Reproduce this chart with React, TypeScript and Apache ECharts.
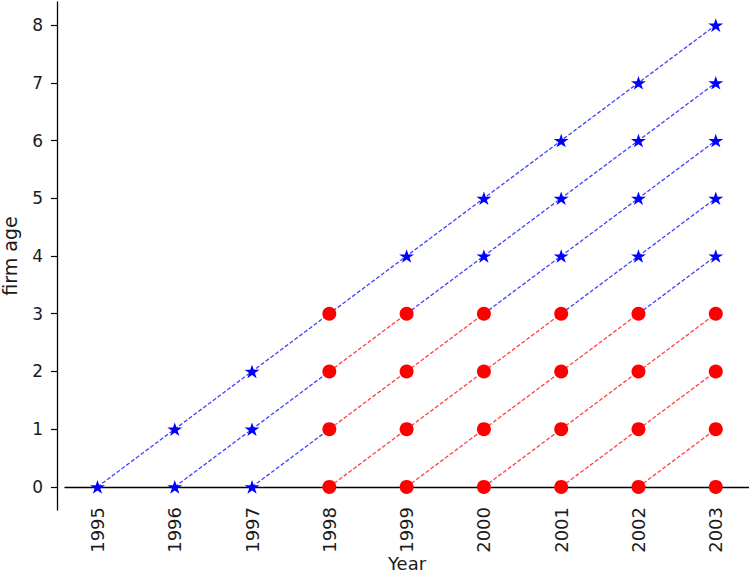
import React, { useEffect, useRef } from "react";
import * as echarts from "echarts";

// Observation years (x axis)
const years = [1995, 1996, 1997, 1998, 1999, 2000, 2001, 2002, 2003];
// Firm age ticks (y axis)
const ageTicks = [0, 1, 2, 3, 4, 5, 6, 7, 8];

// Firm age observed in each year, one row per entry cohort 1995..2003 (null = not yet born)
const ageByCohort: (number | null)[][] = [
  [0, 1, 2, 3, 4, 5, 6, 7, 8],
  [null, 0, 1, 2, 3, 4, 5, 6, 7],
  [null, null, 0, 1, 2, 3, 4, 5, 6],
  [null, null, null, 0, 1, 2, 3, 4, 5],
  [null, null, null, null, 0, 1, 2, 3, 4],
  [null, null, null, null, null, 0, 1, 2, 3],
  [null, null, null, null, null, null, 0, 1, 2],
  [null, null, null, null, null, null, null, 0, 1],
  [null, null, null, null, null, null, null, null, 0],
];

// Marker drawn at each point: "s" = blue star, "o" = red circle
const markerByCohort: (string | null)[][] = [
  ["s", "s", "s", "o", "s", "s", "s", "s", "s"],
  [null, "s", "s", "o", "o", "s", "s", "s", "s"],
  [null, null, "s", "o", "o", "o", "s", "s", "s"],
  [null, null, null, "o", "o", "o", "o", "s", "s"],
  [null, null, null, null, "o", "o", "o", "o", "s"],
  [null, null, null, null, null, "o", "o", "o", "o"],
  [null, null, null, null, null, null, "o", "o", "o"],
  [null, null, null, null, null, null, null, "o", "o"],
  [null, null, null, null, null, null, null, null, "o"],
];

const BLUE = "#0000ff";
const RED = "#ff0000";
const FONT = "DejaVu Sans";
const TEXT = "#1a1a1a";
const STAR =
  "path://M50 0 L61.23 34.55 L97.55 34.55 L68.17 55.9 L79.39 90.45 L50 69.1 L20.61 90.45 L31.83 55.9 L2.45 34.55 L38.77 34.55 Z";

function buildSeries() {
  const lineSeries: any[] = [];
  const stars: number[][] = [];
  const circles: number[][] = [];
  ageByCohort.forEach((ages, ci) => {
    const marks = markerByCohort[ci];
    const pts: { x: number; y: number; m: string }[] = [];
    ages.forEach((a, yi) => {
      if (a !== null && marks[yi]) pts.push({ x: years[yi], y: a, m: marks[yi] as string });
    });
    pts.forEach((p) => (p.m === "s" ? stars : circles).push([p.x, p.y]));
    // group consecutive segments of the same colour into runs
    let run: number[][] = [];
    let runColor = "";
    for (let i = 0; i < pts.length - 1; i++) {
      const a = pts[i];
      const b = pts[i + 1];
      const col = a.m === "o" && b.m === "o" ? RED : BLUE;
      if (col !== runColor) {
        if (run.length > 1) lineSeries.push(makeLine(run, runColor));
        run = [[a.x, a.y]];
        runColor = col;
      }
      run.push([b.x, b.y]);
    }
    if (run.length > 1) lineSeries.push(makeLine(run, runColor));
  });
  return { lineSeries, stars, circles };
}

function makeLine(data: number[][], color: string) {
  return {
    type: "line",
    data,
    symbol: "none",
    silent: true,
    z: 2,
    lineStyle: { color, width: 1.3, type: [4, 2], opacity: 0.75 },
  };
}

export default function App() {
  const ref = useRef<HTMLDivElement>(null);
  useEffect(() => {
    if (!ref.current) return;
    const chart = echarts.init(ref.current, undefined, { renderer: "svg" });
    const { lineSeries, stars, circles } = buildSeries();
    chart.setOption({
      animation: false,
      backgroundColor: "#ffffff",
      textStyle: { fontFamily: FONT },
      grid: { left: 65, right: 0, top: 2, bottom: 65, outerBoundsMode: "none", containLabel: false },
      xAxis: {
        type: "value",
        min: 1994.58,
        max: 2003.43,
        name: "Year",
        nameLocation: "middle",
        nameGap: 44,
        nameMoveOverlap: false,
        nameTextStyle: { fontFamily: FONT, fontSize: 18, color: TEXT },
        axisLine: { show: true, onZero: true, lineStyle: { color: "#000", width: 1.3 } },
        axisTick: { show: false },
        splitLine: { show: false },
        axisLabel: {
          customValues: years,
          rotate: 90,
          margin: -3,
          fontFamily: FONT,
          fontSize: 18,
          color: TEXT,
          formatter: (v: number) => String(v),
        },
      },
      yAxis: {
        type: "value",
        min: -0.4,
        max: 8.4,
        offset: 8,
        name: "firm age",
        nameLocation: "middle",
        nameGap: 38,
        nameMoveOverlap: false,
        nameTextStyle: { fontFamily: FONT, fontSize: 19, color: TEXT },
        axisLine: { show: true, onZero: false, lineStyle: { color: "#000", width: 1.3 } },
        axisTick: { show: true, customValues: ageTicks, length: 6, lineStyle: { color: "#000", width: 1.2 } },
        splitLine: { show: false },
        axisLabel: {
          customValues: ageTicks,
          margin: 14,
          fontFamily: FONT,
          fontSize: 17,
          color: TEXT,
        },
      },
      series: [
        ...lineSeries,
        {
          type: "scatter",
          data: stars,
          symbol: STAR,
          symbolSize: [15, 14.3],
          symbolKeepAspect: true,
          itemStyle: { color: BLUE, opacity: 1 },
          z: 3,
          silent: true,
        },
        {
          type: "scatter",
          data: circles,
          symbol: "circle",
          symbolSize: 14,
          itemStyle: { color: RED, opacity: 1 },
          z: 4,
          silent: true,
        },
      ],
    });
    return () => chart.dispose();
  }, []);
  return (
    <div
      ref={ref}
      style={{ position: "fixed", left: 0, top: 0, width: 749, height: 575, background: "#fff" }}
    />
  );
}
